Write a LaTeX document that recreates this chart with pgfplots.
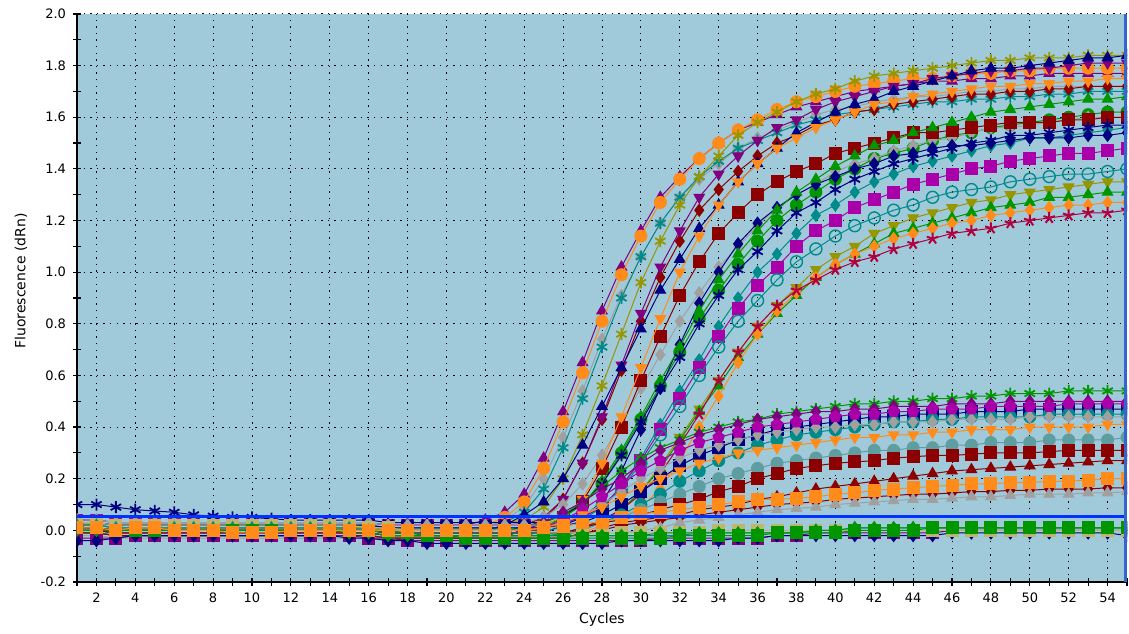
\documentclass[border=0pt]{standalone}
\usepackage{pgfplots}
\pgfplotsset{compat=1.18}
\usepackage{fontspec}
\setmainfont{DejaVu Sans}
\definecolor{pu}{RGB}{128,0,128}
\definecolor{mg}{RGB}{170,0,170}
\definecolor{or}{RGB}{255,140,26}
\definecolor{gr}{RGB}{160,160,160}
\definecolor{tl}{RGB}{0,139,139}
\definecolor{ol}{RGB}{150,150,0}
\definecolor{dr}{RGB}{139,0,0}
\definecolor{nv}{RGB}{0,0,128}
\definecolor{gn}{RGB}{0,150,0}
\definecolor{cr}{RGB}{176,0,64}
\definecolor{sl}{RGB}{95,158,160}
\definecolor{kh}{RGB}{189,183,107}
\definecolor{bgc}{RGB}{160,202,218}
\definecolor{thr}{RGB}{0,51,255}
\definecolor{rl}{RGB}{51,102,204}
\begin{document}
\begin{tikzpicture}
\begin{axis}[
  scale only axis, width=525pt, height=284pt,
  xmin=1, xmax=55, ymin=-0.2, ymax=2.0,
  axis x line*=bottom, axis y line*=left,
  axis line style={-, line width=0.8pt, black},
  axis background/.style={fill=bgc},
  xtick={2,4,...,54}, minor xtick={1,3,...,55},
  ytick={-0.2,0.0,0.2,0.4,0.6,0.8,1.0,1.2,1.4,1.6,1.8,2.0},
  minor ytick={-0.1,0.1,0.3,0.5,0.7,0.9,1.1,1.3,1.5,1.7,1.9},
  grid=major, grid style={black, line width=0.5pt, dash pattern=on 0.7pt off 2.6pt},
  tick align=center, major tick length=4pt, minor tick length=4pt,
  tick style={black, line width=0.6pt},
  tick label style={font=\fontsize{6.5}{7}\selectfont},
  /pgf/number format/assume math mode=true,
  yticklabel style={/pgf/number format/.cd, fixed, fixed zerofill, precision=1},
  every axis x label/.style={at={(axis description cs:0.5,-0.0669)}, anchor=center, font=\fontsize{7}{8}\selectfont},
  every axis y label/.style={at={(axis description cs:-0.0533,0.53)}, rotate=90, anchor=center, font=\fontsize{7}{8}\selectfont},
  xlabel={Cycles}, ylabel={Fluorescence (dRn)},
  clip marker paths=true,
  every axis plot/.append style={line width=0.5pt, mark size=3pt},
]
% ---------- high plateau group ----------
\addplot[pu, mark=triangle*] coordinates {(1,0.04)(2,0.04)(3,0.03)(4,0.03)(5,0.03)(6,0.03)(7,0.03)(8,0.03)(9,0.03)(10,0.03)(11,0.03)(12,0.03)(13,0.03)(14,0.03)(15,0.03)(16,0.03)(17,0.02)(18,0.02)(19,0.02)(20,0.02)(21,0.02)(22,0.04)(23,0.07)(24,0.14)(25,0.28)(26,0.46)(27,0.65)(28,0.85)(29,1.02)(30,1.16)(31,1.29)(32,1.37)(33,1.44)(34,1.50)(35,1.55)(36,1.58)(37,1.61)(38,1.64)(39,1.66)(40,1.68)(41,1.70)(42,1.71)(43,1.72)(44,1.73)(45,1.74)(46,1.74)(47,1.75)(48,1.75)(49,1.76)(50,1.76)(51,1.77)(52,1.77)(53,1.77)(54,1.77)(55,1.77)};
\addplot[gr, mark=diamond*] coordinates {(1,0.02)(2,0.02)(3,0.01)(4,0.01)(5,0.01)(6,0.01)(7,0.01)(8,0.01)(9,0.01)(10,0.01)(11,0.01)(12,0.01)(13,0.01)(14,0.01)(15,0.01)(16,0.01)(17,0.00)(18,0.00)(19,0.00)(20,0.00)(21,0.00)(22,0.01)(23,0.04)(24,0.09)(25,0.20)(26,0.36)(27,0.54)(28,0.74)(29,0.91)(30,1.06)(31,1.19)(32,1.29)(33,1.36)(34,1.42)(35,1.48)(36,1.52)(37,1.55)(38,1.58)(39,1.61)(40,1.63)(41,1.64)(42,1.66)(43,1.67)(44,1.68)(45,1.68)(46,1.69)(47,1.70)(48,1.70)(49,1.71)(50,1.71)(51,1.72)(52,1.72)(53,1.72)(54,1.72)(55,1.72)};
\addplot[or, mark=*] coordinates {(1,0.01)(2,0.01)(3,0.00)(4,0.00)(5,0.00)(6,0.00)(7,0.00)(8,0.00)(9,0.00)(10,0.00)(11,0.00)(12,0.00)(13,0.00)(14,0.00)(15,0.00)(16,0.00)(17,-0.01)(18,-0.01)(19,-0.01)(20,-0.01)(21,-0.01)(22,0.02)(23,0.05)(24,0.11)(25,0.24)(26,0.42)(27,0.61)(28,0.81)(29,0.99)(30,1.14)(31,1.27)(32,1.36)(33,1.44)(34,1.50)(35,1.55)(36,1.59)(37,1.63)(38,1.66)(39,1.68)(40,1.70)(41,1.72)(42,1.73)(43,1.74)(44,1.75)(45,1.75)(46,1.76)(47,1.77)(48,1.77)(49,1.78)(50,1.78)(51,1.79)(52,1.79)(53,1.79)(54,1.79)(55,1.79)};
\addplot[tl, mark=asterisk, mark options={line width=0.9pt}] coordinates {(1,0.00)(2,0.00)(3,-0.01)(4,-0.01)(5,-0.01)(6,-0.01)(7,-0.01)(8,-0.01)(9,-0.01)(10,-0.01)(11,-0.01)(12,-0.01)(13,-0.01)(14,-0.01)(15,-0.01)(16,-0.01)(17,-0.02)(18,-0.02)(19,-0.02)(20,-0.02)(21,-0.02)(22,-0.02)(23,0.03)(24,0.07)(25,0.16)(26,0.32)(27,0.51)(28,0.71)(29,0.90)(30,1.06)(31,1.19)(32,1.29)(33,1.37)(34,1.43)(35,1.48)(36,1.51)(37,1.54)(38,1.57)(39,1.59)(40,1.61)(41,1.62)(42,1.63)(43,1.64)(44,1.65)(45,1.66)(46,1.66)(47,1.67)(48,1.67)(49,1.68)(50,1.68)(51,1.69)(52,1.69)(53,1.70)(54,1.70)(55,1.70)};
\addplot[ol, mark=asterisk, mark options={line width=0.9pt}] coordinates {(1,0.03)(2,0.03)(3,0.02)(4,0.02)(5,0.02)(6,0.02)(7,0.02)(8,0.02)(9,0.02)(10,0.02)(11,0.02)(12,0.02)(13,0.02)(14,0.02)(15,0.02)(16,0.02)(17,0.01)(18,0.01)(19,0.01)(20,0.01)(21,0.01)(22,0.01)(23,0.03)(24,0.04)(25,0.09)(26,0.20)(27,0.37)(28,0.56)(29,0.76)(30,0.96)(31,1.12)(32,1.26)(33,1.37)(34,1.45)(35,1.53)(36,1.58)(37,1.62)(38,1.66)(39,1.69)(40,1.71)(41,1.74)(42,1.76)(43,1.77)(44,1.78)(45,1.79)(46,1.80)(47,1.81)(48,1.82)(49,1.82)(50,1.83)(51,1.83)(52,1.83)(53,1.84)(54,1.84)(55,1.84)};
\addplot[dr, mark=diamond*] coordinates {(1,0.01)(2,0.01)(3,0.00)(4,0.00)(5,0.00)(6,0.00)(7,0.00)(8,0.00)(9,0.00)(10,0.00)(11,0.00)(12,0.00)(13,0.00)(14,0.00)(15,0.00)(16,0.00)(17,-0.01)(18,-0.01)(19,-0.01)(20,-0.01)(21,-0.01)(22,-0.01)(23,-0.01)(24,0.02)(25,0.05)(26,0.12)(27,0.26)(28,0.43)(29,0.62)(30,0.81)(31,0.98)(32,1.12)(33,1.24)(34,1.32)(35,1.39)(36,1.45)(37,1.50)(38,1.53)(39,1.57)(40,1.59)(41,1.62)(42,1.63)(43,1.65)(44,1.66)(45,1.67)(46,1.68)(47,1.69)(48,1.69)(49,1.70)(50,1.70)(51,1.71)(52,1.71)(53,1.72)(54,1.72)(55,1.72)};
\addplot[pu, mark=triangle*, mark options={rotate=180}] coordinates {(1,-0.01)(2,-0.01)(3,-0.02)(4,-0.02)(5,-0.02)(6,-0.02)(7,-0.02)(8,-0.02)(9,-0.02)(10,-0.02)(11,-0.02)(12,-0.02)(13,-0.02)(14,-0.02)(15,-0.02)(16,-0.02)(17,-0.03)(18,-0.03)(19,-0.03)(20,-0.03)(21,-0.03)(22,-0.03)(23,-0.03)(24,0.01)(25,0.04)(26,0.12)(27,0.26)(28,0.44)(29,0.64)(30,0.84)(31,1.02)(32,1.16)(33,1.29)(34,1.38)(35,1.45)(36,1.51)(37,1.56)(38,1.59)(39,1.63)(40,1.66)(41,1.68)(42,1.70)(43,1.72)(44,1.73)(45,1.75)(46,1.76)(47,1.77)(48,1.78)(49,1.78)(50,1.79)(51,1.79)(52,1.80)(53,1.81)(54,1.81)(55,1.81)};
\addplot[nv, mark=triangle*] coordinates {(1,0.02)(2,0.02)(3,0.01)(4,0.01)(5,0.01)(6,0.01)(7,0.01)(8,0.01)(9,0.01)(10,0.01)(11,0.01)(12,0.01)(13,0.01)(14,0.01)(15,0.01)(16,0.01)(17,0.00)(18,0.00)(19,0.00)(20,0.00)(21,0.00)(22,0.00)(23,0.02)(24,0.06)(25,0.11)(26,0.20)(27,0.33)(28,0.48)(29,0.63)(30,0.78)(31,0.93)(32,1.05)(33,1.17)(34,1.26)(35,1.35)(36,1.42)(37,1.48)(38,1.54)(39,1.58)(40,1.62)(41,1.65)(42,1.67)(43,1.70)(44,1.72)(45,1.74)(46,1.76)(47,1.78)(48,1.79)(49,1.79)(50,1.80)(51,1.81)(52,1.82)(53,1.83)(54,1.83)(55,1.84)};
\addplot[gn, mark=*] coordinates {(1,0.01)(2,0.01)(3,0.00)(4,0.00)(5,0.00)(6,0.00)(7,0.00)(8,0.00)(9,0.00)(10,0.00)(11,0.00)(12,0.00)(13,0.00)(14,0.00)(15,0.00)(16,0.00)(17,-0.01)(18,-0.01)(19,-0.01)(20,-0.01)(21,-0.01)(22,-0.01)(23,-0.01)(24,-0.01)(25,0.02)(26,0.05)(27,0.10)(28,0.18)(29,0.30)(30,0.43)(31,0.56)(32,0.69)(33,0.82)(34,0.93)(35,1.03)(36,1.12)(37,1.20)(38,1.26)(39,1.31)(40,1.36)(41,1.40)(42,1.44)(43,1.46)(44,1.48)(45,1.51)(46,1.53)(47,1.54)(48,1.56)(49,1.57)(50,1.58)(51,1.59)(52,1.60)(53,1.61)(54,1.62)(55,1.62)};
\addplot[gr, mark=diamond*] coordinates {(1,0.04)(2,0.04)(3,0.03)(4,0.03)(5,0.03)(6,0.03)(7,0.03)(8,0.03)(9,0.03)(10,0.03)(11,0.03)(12,0.03)(13,0.03)(14,0.03)(15,0.03)(16,0.03)(17,0.02)(18,0.02)(19,0.02)(20,0.02)(21,0.02)(22,0.02)(23,0.02)(24,0.03)(25,0.05)(26,0.10)(27,0.18)(28,0.29)(29,0.42)(30,0.55)(31,0.68)(32,0.81)(33,0.92)(34,1.02)(35,1.10)(36,1.18)(37,1.25)(38,1.30)(39,1.34)(40,1.39)(41,1.42)(42,1.44)(43,1.47)(44,1.49)(45,1.51)(46,1.52)(47,1.54)(48,1.56)(49,1.56)(50,1.57)(51,1.58)(52,1.59)(53,1.60)(54,1.60)(55,1.60)};
\addplot[dr, mark=square*] coordinates {(1,0.00)(2,0.00)(3,-0.01)(4,-0.01)(5,-0.01)(6,-0.01)(7,-0.01)(8,-0.01)(9,-0.01)(10,-0.01)(11,-0.01)(12,-0.01)(13,-0.01)(14,-0.01)(15,-0.01)(16,-0.01)(17,-0.02)(18,-0.02)(19,-0.02)(20,-0.02)(21,-0.02)(22,-0.02)(23,-0.02)(24,-0.02)(25,0.01)(26,0.05)(27,0.11)(28,0.24)(29,0.40)(30,0.58)(31,0.75)(32,0.91)(33,1.04)(34,1.15)(35,1.23)(36,1.30)(37,1.35)(38,1.39)(39,1.42)(40,1.46)(41,1.48)(42,1.50)(43,1.52)(44,1.54)(45,1.54)(46,1.55)(47,1.56)(48,1.57)(49,1.58)(50,1.58)(51,1.58)(52,1.59)(53,1.59)(54,1.60)(55,1.60)};
\addplot[tl, mark=diamond*] coordinates {(1,0.03)(2,0.03)(3,0.02)(4,0.02)(5,0.02)(6,0.02)(7,0.02)(8,0.02)(9,0.02)(10,0.02)(11,0.02)(12,0.02)(13,0.02)(14,0.02)(15,0.02)(16,0.02)(17,0.01)(18,0.01)(19,0.01)(20,0.01)(21,0.01)(22,0.01)(23,0.01)(24,0.01)(25,0.01)(26,0.03)(27,0.05)(28,0.09)(29,0.17)(30,0.28)(31,0.41)(32,0.54)(33,0.66)(34,0.79)(35,0.90)(36,1.00)(37,1.07)(38,1.15)(39,1.22)(40,1.26)(41,1.31)(42,1.35)(43,1.38)(44,1.41)(45,1.43)(46,1.45)(47,1.47)(48,1.49)(49,1.50)(50,1.52)(51,1.52)(52,1.53)(53,1.54)(54,1.55)(55,1.56)};
\addplot[nv, mark=diamond*] coordinates {(1,0.01)(2,0.01)(3,0.00)(4,0.00)(5,0.00)(6,0.00)(7,0.00)(8,0.00)(9,0.00)(10,0.00)(11,0.00)(12,0.00)(13,0.00)(14,0.00)(15,0.00)(16,0.00)(17,-0.01)(18,-0.01)(19,-0.01)(20,-0.01)(21,-0.01)(22,-0.01)(23,-0.01)(24,-0.01)(25,-0.01)(26,0.02)(27,0.05)(28,0.11)(29,0.23)(30,0.39)(31,0.55)(32,0.72)(33,0.88)(34,1.00)(35,1.11)(36,1.19)(37,1.25)(38,1.30)(39,1.34)(40,1.37)(41,1.40)(42,1.42)(43,1.45)(44,1.46)(45,1.48)(46,1.49)(47,1.49)(48,1.50)(49,1.51)(50,1.52)(51,1.52)(52,1.52)(53,1.53)(54,1.53)(55,1.54)};
\addplot[mg, mark=square*] coordinates {(1,0.04)(2,0.04)(3,0.03)(4,0.03)(5,0.03)(6,0.03)(7,0.03)(8,0.03)(9,0.03)(10,0.03)(11,0.03)(12,0.03)(13,0.03)(14,0.03)(15,0.03)(16,0.03)(17,0.02)(18,0.02)(19,0.02)(20,0.02)(21,0.02)(22,0.02)(23,0.02)(24,0.02)(25,0.02)(26,0.03)(27,0.05)(28,0.09)(29,0.17)(30,0.27)(31,0.39)(32,0.51)(33,0.63)(34,0.75)(35,0.86)(36,0.95)(37,1.02)(38,1.10)(39,1.16)(40,1.20)(41,1.25)(42,1.28)(43,1.31)(44,1.34)(45,1.36)(46,1.38)(47,1.40)(48,1.41)(49,1.43)(50,1.44)(51,1.45)(52,1.46)(53,1.46)(54,1.47)(55,1.48)};
\addplot[or, mark=triangle*, mark options={rotate=180}] coordinates {(1,0.02)(2,0.02)(3,0.01)(4,0.01)(5,0.01)(6,0.01)(7,0.01)(8,0.01)(9,0.01)(10,0.01)(11,0.01)(12,0.01)(13,0.01)(14,0.01)(15,0.01)(16,0.01)(17,0.00)(18,0.00)(19,0.00)(20,0.00)(21,0.00)(22,0.00)(23,0.00)(24,0.00)(25,0.02)(26,0.05)(27,0.12)(28,0.26)(29,0.44)(30,0.63)(31,0.82)(32,1.00)(33,1.14)(34,1.26)(35,1.35)(36,1.42)(37,1.48)(38,1.52)(39,1.56)(40,1.59)(41,1.62)(42,1.65)(43,1.66)(44,1.68)(45,1.69)(46,1.70)(47,1.71)(48,1.72)(49,1.72)(50,1.73)(51,1.73)(52,1.74)(53,1.74)(54,1.75)(55,1.75)};
\addplot[gn, mark=triangle*] coordinates {(1,-0.01)(2,-0.01)(3,-0.02)(4,-0.02)(5,-0.02)(6,-0.02)(7,-0.02)(8,-0.02)(9,-0.02)(10,-0.02)(11,-0.02)(12,-0.02)(13,-0.02)(14,-0.02)(15,-0.02)(16,-0.02)(17,-0.03)(18,-0.03)(19,-0.03)(20,-0.03)(21,-0.03)(22,-0.03)(23,-0.03)(24,-0.03)(25,0.01)(26,0.05)(27,0.10)(28,0.19)(29,0.31)(30,0.44)(31,0.58)(32,0.71)(33,0.85)(34,0.97)(35,1.07)(36,1.16)(37,1.24)(38,1.31)(39,1.36)(40,1.41)(41,1.45)(42,1.49)(43,1.51)(44,1.54)(45,1.56)(46,1.58)(47,1.60)(48,1.62)(49,1.63)(50,1.64)(51,1.65)(52,1.66)(53,1.67)(54,1.67)(55,1.68)};
\addplot[ol, mark=triangle*, mark options={rotate=180}] coordinates {(1,0.01)(2,0.01)(3,0.00)(4,0.00)(5,0.00)(6,0.00)(7,0.00)(8,0.00)(9,0.00)(10,0.00)(11,0.00)(12,0.00)(13,0.00)(14,0.00)(15,0.00)(16,0.00)(17,-0.01)(18,-0.01)(19,-0.01)(20,-0.01)(21,-0.01)(22,-0.01)(23,-0.01)(24,-0.01)(25,-0.01)(26,-0.01)(27,0.01)(28,0.04)(29,0.08)(30,0.15)(31,0.25)(32,0.36)(33,0.47)(34,0.58)(35,0.69)(36,0.79)(37,0.87)(38,0.94)(39,1.01)(40,1.06)(41,1.10)(42,1.15)(43,1.18)(44,1.21)(45,1.23)(46,1.25)(47,1.27)(48,1.28)(49,1.30)(50,1.31)(51,1.32)(52,1.33)(53,1.34)(54,1.35)(55,1.35)};
\addplot[gn, mark=triangle*] coordinates {(1,-0.01)(2,-0.01)(3,-0.02)(4,-0.02)(5,-0.02)(6,-0.02)(7,-0.02)(8,-0.02)(9,-0.02)(10,-0.02)(11,-0.02)(12,-0.02)(13,-0.02)(14,-0.02)(15,-0.02)(16,-0.02)(17,-0.03)(18,-0.03)(19,-0.03)(20,-0.03)(21,-0.03)(22,-0.03)(23,-0.03)(24,-0.03)(25,-0.03)(26,-0.03)(27,0.01)(28,0.04)(29,0.08)(30,0.15)(31,0.24)(32,0.35)(33,0.46)(34,0.56)(35,0.67)(36,0.76)(37,0.84)(38,0.91)(39,0.98)(40,1.03)(41,1.07)(42,1.11)(43,1.15)(44,1.17)(45,1.19)(46,1.21)(47,1.23)(48,1.25)(49,1.26)(50,1.27)(51,1.29)(52,1.29)(53,1.30)(54,1.31)(55,1.31)};
\addplot[tl, mark=o, mark options={line width=0.7pt}] coordinates {(1,0.02)(2,0.02)(3,0.01)(4,0.01)(5,0.01)(6,0.01)(7,0.01)(8,0.01)(9,0.01)(10,0.01)(11,0.01)(12,0.01)(13,0.01)(14,0.01)(15,0.01)(16,0.01)(17,0.00)(18,0.00)(19,0.00)(20,0.00)(21,0.00)(22,0.00)(23,0.00)(24,0.00)(25,0.00)(26,0.01)(27,0.04)(28,0.09)(29,0.16)(30,0.26)(31,0.37)(32,0.48)(33,0.60)(34,0.71)(35,0.81)(36,0.89)(37,0.97)(38,1.04)(39,1.09)(40,1.14)(41,1.18)(42,1.21)(43,1.24)(44,1.26)(45,1.29)(46,1.31)(47,1.32)(48,1.33)(49,1.35)(50,1.36)(51,1.37)(52,1.38)(53,1.38)(54,1.39)(55,1.40)};
\addplot[or, mark=diamond*] coordinates {(1,0.01)(2,0.01)(3,0.00)(4,0.00)(5,0.00)(6,0.00)(7,0.00)(8,0.00)(9,0.00)(10,0.00)(11,0.00)(12,0.00)(13,0.00)(14,0.00)(15,0.00)(16,0.00)(17,-0.01)(18,-0.01)(19,-0.01)(20,-0.01)(21,-0.01)(22,-0.01)(23,-0.01)(24,-0.01)(25,-0.01)(26,-0.01)(27,-0.01)(28,0.02)(29,0.05)(30,0.09)(31,0.16)(32,0.27)(33,0.40)(34,0.52)(35,0.65)(36,0.76)(37,0.85)(38,0.92)(39,0.98)(40,1.03)(41,1.07)(42,1.10)(43,1.13)(44,1.15)(45,1.17)(46,1.19)(47,1.20)(48,1.22)(49,1.23)(50,1.24)(51,1.25)(52,1.26)(53,1.26)(54,1.27)(55,1.27)};
\addplot[cr, mark=star, mark options={line width=1pt}] coordinates {(1,0.00)(2,0.00)(3,-0.01)(4,-0.01)(5,-0.01)(6,-0.01)(7,-0.01)(8,-0.01)(9,-0.01)(10,-0.01)(11,-0.01)(12,-0.01)(13,-0.01)(14,-0.01)(15,-0.01)(16,-0.01)(17,-0.02)(18,-0.02)(19,-0.02)(20,-0.02)(21,-0.02)(22,-0.02)(23,-0.02)(24,-0.02)(25,-0.02)(26,-0.02)(27,0.01)(28,0.04)(29,0.08)(30,0.14)(31,0.22)(32,0.33)(33,0.45)(34,0.58)(35,0.69)(36,0.79)(37,0.87)(38,0.93)(39,0.97)(40,1.01)(41,1.04)(42,1.06)(43,1.09)(44,1.11)(45,1.13)(46,1.15)(47,1.16)(48,1.17)(49,1.19)(50,1.20)(51,1.21)(52,1.22)(53,1.23)(54,1.23)(55,1.24)};
\addplot[nv, mark=asterisk, mark options={line width=0.9pt}] coordinates {(1,0.10)(2,0.10)(3,0.09)(4,0.08)(5,0.075)(6,0.07)(7,0.06)(8,0.055)(9,0.05)(10,0.05)(11,0.045)(12,0.04)(13,0.04)(14,0.04)(15,0.04)(16,0.04)(17,0.03)(18,0.03)(19,0.03)(20,0.03)(21,0.03)(22,0.03)(23,0.03)(24,0.03)(25,0.03)(26,0.06)(27,0.10)(28,0.18)(29,0.29)(30,0.42)(31,0.55)(32,0.67)(33,0.80)(34,0.91)(35,1.01)(36,1.08)(37,1.16)(38,1.23)(39,1.27)(40,1.32)(41,1.36)(42,1.39)(43,1.42)(44,1.44)(45,1.46)(46,1.48)(47,1.50)(48,1.51)(49,1.53)(50,1.53)(51,1.54)(52,1.55)(53,1.56)(54,1.57)(55,1.57)};
% ---------- low plateau group ----------
\addplot[gn, mark=asterisk, mark options={line width=0.9pt}] coordinates {(1,0.02)(2,0.02)(3,0.01)(4,0.01)(5,0.01)(6,0.01)(7,0.01)(8,0.01)(9,0.01)(10,0.01)(11,0.01)(12,0.01)(13,0.01)(14,0.01)(15,0.01)(16,0.01)(17,0.00)(18,0.00)(19,0.00)(20,0.00)(21,0.00)(22,0.00)(23,0.00)(24,0.01)(25,0.03)(26,0.06)(27,0.11)(28,0.17)(29,0.23)(30,0.28)(31,0.32)(32,0.35)(33,0.38)(34,0.40)(35,0.42)(36,0.43)(37,0.45)(38,0.46)(39,0.47)(40,0.48)(41,0.49)(42,0.49)(43,0.50)(44,0.50)(45,0.51)(46,0.51)(47,0.52)(48,0.52)(49,0.53)(50,0.53)(51,0.53)(52,0.54)(53,0.54)(54,0.54)(55,0.54)};
\addplot[pu, mark=diamond*] coordinates {(1,0.00)(2,0.00)(3,-0.01)(4,-0.01)(5,-0.01)(6,-0.01)(7,-0.01)(8,-0.01)(9,-0.01)(10,-0.01)(11,-0.01)(12,-0.01)(13,-0.01)(14,-0.01)(15,-0.01)(16,-0.01)(17,-0.02)(18,-0.02)(19,-0.02)(20,-0.02)(21,-0.02)(22,-0.02)(23,-0.02)(24,0.00)(25,0.03)(26,0.07)(27,0.11)(28,0.16)(29,0.20)(30,0.26)(31,0.31)(32,0.34)(33,0.37)(34,0.39)(35,0.41)(36,0.43)(37,0.44)(38,0.45)(39,0.46)(40,0.46)(41,0.47)(42,0.47)(43,0.48)(44,0.48)(45,0.48)(46,0.49)(47,0.49)(48,0.49)(49,0.50)(50,0.50)(51,0.50)(52,0.50)(53,0.50)(54,0.50)(55,0.50)};
\addplot[nv, mark=square*] coordinates {(1,0.03)(2,0.03)(3,0.02)(4,0.02)(5,0.02)(6,0.02)(7,0.02)(8,0.02)(9,0.02)(10,0.02)(11,0.02)(12,0.02)(13,0.02)(14,0.02)(15,0.02)(16,0.02)(17,0.01)(18,0.01)(19,0.01)(20,0.01)(21,0.01)(22,0.01)(23,0.01)(24,0.01)(25,0.01)(26,0.02)(27,0.03)(28,0.06)(29,0.10)(30,0.15)(31,0.20)(32,0.25)(33,0.29)(34,0.32)(35,0.35)(36,0.37)(37,0.39)(38,0.40)(39,0.41)(40,0.42)(41,0.43)(42,0.44)(43,0.44)(44,0.45)(45,0.45)(46,0.45)(47,0.46)(48,0.46)(49,0.46)(50,0.47)(51,0.47)(52,0.47)(53,0.47)(54,0.47)(55,0.47)};
\addplot[tl, mark=*] coordinates {(1,0.01)(2,0.01)(3,0.00)(4,0.00)(5,0.00)(6,0.00)(7,0.00)(8,0.00)(9,0.00)(10,0.00)(11,0.00)(12,0.00)(13,0.00)(14,0.00)(15,0.00)(16,0.00)(17,-0.01)(18,-0.01)(19,-0.01)(20,-0.01)(21,-0.01)(22,-0.01)(23,-0.01)(24,-0.01)(25,-0.01)(26,-0.01)(27,0.01)(28,0.03)(29,0.06)(30,0.10)(31,0.14)(32,0.19)(33,0.23)(34,0.27)(35,0.30)(36,0.33)(37,0.35)(38,0.37)(39,0.38)(40,0.39)(41,0.40)(42,0.41)(43,0.42)(44,0.42)(45,0.43)(46,0.43)(47,0.44)(48,0.44)(49,0.44)(50,0.44)(51,0.45)(52,0.45)(53,0.45)(54,0.45)(55,0.45)};
\addplot[gr, mark=diamond*] coordinates {(1,0.04)(2,0.04)(3,0.03)(4,0.03)(5,0.03)(6,0.03)(7,0.03)(8,0.03)(9,0.03)(10,0.03)(11,0.03)(12,0.03)(13,0.03)(14,0.03)(15,0.03)(16,0.03)(17,0.02)(18,0.02)(19,0.02)(20,0.02)(21,0.02)(22,0.02)(23,0.02)(24,0.02)(25,0.02)(26,0.03)(27,0.06)(28,0.10)(29,0.15)(30,0.20)(31,0.24)(32,0.28)(33,0.31)(34,0.33)(35,0.35)(36,0.37)(37,0.38)(38,0.39)(39,0.40)(40,0.40)(41,0.41)(42,0.41)(43,0.42)(44,0.42)(45,0.42)(46,0.43)(47,0.43)(48,0.43)(49,0.43)(50,0.44)(51,0.44)(52,0.44)(53,0.44)(54,0.44)(55,0.44)};
\addplot[mg, mark=pentagon*] coordinates {(1,0.01)(2,0.01)(3,0.00)(4,0.00)(5,0.00)(6,0.00)(7,0.00)(8,0.00)(9,0.00)(10,0.00)(11,0.00)(12,0.00)(13,0.00)(14,0.00)(15,0.00)(16,0.00)(17,-0.01)(18,-0.01)(19,-0.01)(20,-0.01)(21,-0.01)(22,-0.01)(23,-0.01)(24,-0.01)(25,0.01)(26,0.04)(27,0.08)(28,0.13)(29,0.18)(30,0.23)(31,0.27)(32,0.31)(33,0.34)(34,0.36)(35,0.38)(36,0.40)(37,0.41)(38,0.42)(39,0.43)(40,0.44)(41,0.45)(42,0.45)(43,0.46)(44,0.46)(45,0.47)(46,0.47)(47,0.47)(48,0.48)(49,0.48)(50,0.48)(51,0.48)(52,0.49)(53,0.49)(54,0.49)(55,0.49)};
\addplot[or, mark=triangle*, mark options={rotate=180}] coordinates {(1,0.02)(2,0.02)(3,0.01)(4,0.01)(5,0.01)(6,0.01)(7,0.01)(8,0.01)(9,0.01)(10,0.01)(11,0.01)(12,0.01)(13,0.01)(14,0.01)(15,0.01)(16,0.01)(17,0.00)(18,0.00)(19,0.00)(20,0.00)(21,0.00)(22,0.00)(23,0.00)(24,0.00)(25,0.01)(26,0.03)(27,0.06)(28,0.09)(29,0.13)(30,0.17)(31,0.20)(32,0.23)(33,0.26)(34,0.28)(35,0.30)(36,0.31)(37,0.32)(38,0.33)(39,0.34)(40,0.35)(41,0.36)(42,0.36)(43,0.37)(44,0.37)(45,0.38)(46,0.38)(47,0.39)(48,0.39)(49,0.39)(50,0.40)(51,0.40)(52,0.40)(53,0.40)(54,0.41)(55,0.41)};
\addplot[sl, mark=*] coordinates {(1,0.00)(2,0.00)(3,-0.01)(4,-0.01)(5,-0.01)(6,-0.01)(7,-0.01)(8,-0.01)(9,-0.01)(10,-0.01)(11,-0.01)(12,-0.01)(13,-0.01)(14,-0.01)(15,-0.01)(16,-0.01)(17,-0.02)(18,-0.02)(19,-0.02)(20,-0.02)(21,-0.02)(22,-0.02)(23,-0.02)(24,-0.02)(25,-0.02)(26,-0.02)(27,0.00)(28,0.03)(29,0.05)(30,0.08)(31,0.11)(32,0.14)(33,0.17)(34,0.20)(35,0.22)(36,0.24)(37,0.26)(38,0.27)(39,0.28)(40,0.29)(41,0.30)(42,0.31)(43,0.31)(44,0.32)(45,0.32)(46,0.33)(47,0.33)(48,0.34)(49,0.34)(50,0.34)(51,0.35)(52,0.35)(53,0.35)(54,0.35)(55,0.36)};
\addplot[dr, mark=square*] coordinates {(1,0.01)(2,0.01)(3,0.00)(4,0.00)(5,0.00)(6,0.00)(7,0.00)(8,0.00)(9,0.00)(10,0.00)(11,0.00)(12,0.00)(13,0.00)(14,0.00)(15,0.00)(16,0.00)(17,-0.01)(18,-0.01)(19,-0.01)(20,-0.01)(21,-0.01)(22,-0.01)(23,-0.01)(24,-0.01)(25,-0.01)(26,-0.01)(27,0.01)(28,0.03)(29,0.04)(30,0.06)(31,0.08)(32,0.10)(33,0.12)(34,0.15)(35,0.17)(36,0.20)(37,0.22)(38,0.24)(39,0.25)(40,0.26)(41,0.265)(42,0.27)(43,0.28)(44,0.285)(45,0.29)(46,0.29)(47,0.295)(48,0.30)(49,0.30)(50,0.30)(51,0.305)(52,0.31)(53,0.31)(54,0.31)(55,0.31)};
\addplot[dr, mark=triangle*] coordinates {(1,0.00)(2,0.00)(3,-0.01)(4,-0.01)(5,-0.01)(6,-0.01)(7,-0.01)(8,-0.01)(9,-0.01)(10,-0.01)(11,-0.01)(12,-0.01)(13,-0.01)(14,-0.01)(15,-0.01)(16,-0.01)(17,-0.02)(18,-0.02)(19,-0.02)(20,-0.02)(21,-0.02)(22,-0.02)(23,-0.02)(24,-0.02)(25,-0.02)(26,-0.02)(27,-0.02)(28,0.01)(29,0.03)(30,0.04)(31,0.05)(32,0.06)(33,0.08)(34,0.09)(35,0.10)(36,0.12)(37,0.13)(38,0.145)(39,0.16)(40,0.17)(41,0.18)(42,0.19)(43,0.20)(44,0.21)(45,0.22)(46,0.23)(47,0.235)(48,0.24)(49,0.245)(50,0.25)(51,0.255)(52,0.26)(53,0.265)(54,0.27)(55,0.27)};
\addplot[dr, mark=diamond*] coordinates {(1,-0.01)(2,-0.01)(3,-0.02)(4,-0.02)(5,-0.02)(6,-0.02)(7,-0.02)(8,-0.02)(9,-0.02)(10,-0.02)(11,-0.02)(12,-0.02)(13,-0.02)(14,-0.02)(15,-0.02)(16,-0.02)(17,-0.03)(18,-0.03)(19,-0.03)(20,-0.03)(21,-0.03)(22,-0.03)(23,-0.03)(24,-0.03)(25,-0.03)(26,-0.03)(27,-0.01)(28,0.00)(29,0.02)(30,0.03)(31,0.04)(32,0.05)(33,0.06)(34,0.07)(35,0.08)(36,0.09)(37,0.10)(38,0.105)(39,0.11)(40,0.12)(41,0.125)(42,0.13)(43,0.135)(44,0.14)(45,0.14)(46,0.145)(47,0.15)(48,0.15)(49,0.155)(50,0.155)(51,0.16)(52,0.16)(53,0.16)(54,0.165)(55,0.165)};
\addplot[gr, mark=triangle*] coordinates {(1,-0.02)(2,-0.02)(3,-0.03)(4,-0.03)(5,-0.03)(6,-0.03)(7,-0.03)(8,-0.03)(9,-0.03)(10,-0.03)(11,-0.03)(12,-0.03)(13,-0.03)(14,-0.03)(15,-0.03)(16,-0.03)(17,-0.04)(18,-0.04)(19,-0.04)(20,-0.04)(21,-0.04)(22,-0.04)(23,-0.04)(24,-0.04)(25,-0.04)(26,-0.04)(27,-0.04)(28,-0.04)(29,-0.01)(30,0.00)(31,0.01)(32,0.03)(33,0.04)(34,0.05)(35,0.06)(36,0.07)(37,0.08)(38,0.085)(39,0.09)(40,0.10)(41,0.105)(42,0.11)(43,0.115)(44,0.12)(45,0.12)(46,0.125)(47,0.13)(48,0.13)(49,0.135)(50,0.14)(51,0.14)(52,0.14)(53,0.145)(54,0.145)(55,0.15)};
% ---------- negatives ----------
\addplot[pu, mark=square*] coordinates {(1,-0.03)(2,-0.03)(3,-0.03)(4,-0.02)(5,-0.02)(6,-0.02)(7,-0.02)(8,-0.02)(9,-0.02)(10,-0.02)(11,-0.02)(12,-0.02)(13,-0.02)(14,-0.02)(15,-0.02)(16,-0.03)(17,-0.03)(18,-0.04)(19,-0.04)(20,-0.04)(21,-0.04)(22,-0.04)(23,-0.04)(24,-0.04)(25,-0.04)(26,-0.04)(27,-0.04)(28,-0.04)(29,-0.04)(30,-0.04)(31,-0.03)(32,-0.03)(33,-0.03)(34,-0.03)(35,-0.03)(36,-0.03)(37,-0.02)(38,-0.02)(39,-0.01)(40,-0.01)(41,-0.01)(42,-0.01)(43,-0.01)(44,-0.01)(45,-0.01)(46,0.00)(47,0.00)(48,0.00)(49,0.00)(50,0.00)(51,0.00)(52,0.00)(53,0.00)(54,0.00)(55,0.00)};
\addplot[nv, mark=diamond*] coordinates {(1,-0.04)(2,-0.04)(3,-0.03)(4,-0.02)(5,-0.02)(6,-0.02)(7,-0.02)(8,-0.02)(9,-0.02)(10,-0.02)(11,-0.02)(12,-0.02)(13,-0.02)(14,-0.02)(15,-0.03)(16,-0.03)(17,-0.04)(18,-0.04)(19,-0.05)(20,-0.05)(21,-0.05)(22,-0.05)(23,-0.05)(24,-0.05)(25,-0.05)(26,-0.05)(27,-0.05)(28,-0.05)(29,-0.04)(30,-0.04)(31,-0.04)(32,-0.04)(33,-0.04)(34,-0.04)(35,-0.03)(36,-0.03)(37,-0.02)(38,-0.02)(39,-0.02)(40,-0.02)(41,-0.02)(42,-0.02)(43,-0.02)(44,-0.02)(45,-0.02)(46,-0.01)(47,-0.01)(48,-0.01)(49,-0.01)(50,-0.01)(51,-0.01)(52,-0.01)(53,-0.01)(54,-0.01)(55,-0.02)};
\addplot[kh, mark=square*] coordinates {(1,0.03)(2,0.03)(3,0.02)(4,0.02)(5,0.02)(6,0.02)(7,0.02)(8,0.02)(9,0.02)(10,0.02)(11,0.02)(12,0.02)(13,0.02)(14,0.02)(15,0.02)(16,0.01)(17,0.01)(18,0.00)(19,0.00)(20,0.00)(21,0.00)(22,0.00)(23,0.00)(24,0.00)(25,-0.01)(26,-0.01)(27,-0.01)(28,-0.01)(29,-0.01)(30,-0.01)(31,-0.01)(32,-0.01)(33,-0.01)(34,0.00)(35,0.00)(36,0.00)(37,0.00)(38,0.00)(39,0.00)(40,0.00)(41,0.00)(42,0.00)(43,0.00)(44,0.00)(45,0.00)(46,0.00)(47,0.00)(48,0.00)(49,0.00)(50,0.00)(51,0.00)(52,0.00)(53,0.00)(54,0.00)(55,0.00)};
\addplot[tl, mark=triangle*] coordinates {(1,0.02)(2,0.02)(3,0.01)(4,0.01)(5,0.01)(6,0.01)(7,0.01)(8,0.01)(9,0.01)(10,0.01)(11,0.01)(12,0.01)(13,0.01)(14,0.01)(15,0.01)(16,0.00)(17,0.00)(18,-0.01)(19,-0.01)(20,-0.01)(21,-0.01)(22,-0.01)(23,-0.01)(24,-0.01)(25,-0.01)(26,-0.02)(27,-0.02)(28,-0.02)(29,-0.02)(30,-0.02)(31,-0.02)(32,-0.02)(33,-0.01)(34,-0.01)(35,-0.01)(36,-0.01)(37,-0.01)(38,-0.01)(39,0.00)(40,0.00)(41,0.01)(42,0.01)(43,0.01)(44,0.01)(45,0.01)(46,0.01)(47,0.01)(48,0.01)(49,0.01)(50,0.01)(51,0.01)(52,0.01)(53,0.01)(54,0.01)(55,0.01)};
\addplot[gn, mark=diamond*] coordinates {(1,0.00)(2,0.00)(3,0.00)(4,0.00)(5,0.00)(6,0.00)(7,0.00)(8,0.00)(9,0.00)(10,0.00)(11,0.00)(12,0.00)(13,0.00)(14,0.00)(15,-0.01)(16,-0.01)(17,-0.02)(18,-0.02)(19,-0.02)(20,-0.02)(21,-0.02)(22,-0.02)(23,-0.02)(24,-0.02)(25,-0.02)(26,-0.02)(27,-0.02)(28,-0.02)(29,-0.02)(30,-0.02)(31,-0.01)(32,-0.01)(33,-0.01)(34,-0.01)(35,-0.01)(36,-0.01)(37,-0.01)(38,-0.01)(39,0.00)(40,0.00)(41,0.01)(42,0.01)(43,0.01)(44,0.01)(45,0.01)(46,0.01)(47,0.01)(48,0.01)(49,0.01)(50,0.01)(51,0.01)(52,0.01)(53,0.01)(54,0.01)(55,0.01)};
\addplot[gn, mark=square*] coordinates {(1,0.01)(2,0.01)(3,0.00)(4,0.00)(5,0.00)(6,0.00)(7,0.00)(8,0.00)(9,0.00)(10,0.00)(11,0.00)(12,0.00)(13,0.00)(14,0.00)(15,0.00)(16,0.00)(17,-0.01)(18,-0.01)(19,-0.02)(20,-0.02)(21,-0.03)(22,-0.03)(23,-0.03)(24,-0.03)(25,-0.03)(26,-0.03)(27,-0.03)(28,-0.03)(29,-0.03)(30,-0.03)(31,-0.03)(32,-0.02)(33,-0.02)(34,-0.02)(35,-0.02)(36,-0.02)(37,-0.01)(38,-0.01)(39,-0.01)(40,-0.01)(41,0.00)(42,0.00)(43,0.00)(44,0.00)(45,0.01)(46,0.01)(47,0.01)(48,0.01)(49,0.01)(50,0.01)(51,0.01)(52,0.01)(53,0.01)(54,0.01)(55,0.01)};
% orange squares on top
\addplot[or, mark=square*] coordinates {(1,0.01)(2,0.01)(3,0.00)(4,0.01)(5,0.01)(6,0.00)(7,0.00)(8,0.00)(9,-0.01)(10,-0.01)(11,-0.01)(12,0.00)(13,0.00)(14,0.00)(15,0.00)(16,0.00)(17,0.00)(18,0.00)(19,0.00)(20,0.00)(21,0.00)(22,0.00)(23,0.00)(24,0.00)(25,0.01)(26,0.015)(27,0.03)(28,0.03)(29,0.05)(30,0.065)(31,0.07)(32,0.08)(33,0.09)(34,0.10)(35,0.11)(36,0.12)(37,0.12)(38,0.125)(39,0.13)(40,0.14)(41,0.145)(42,0.155)(43,0.16)(44,0.165)(45,0.17)(46,0.175)(47,0.18)(48,0.18)(49,0.185)(50,0.185)(51,0.19)(52,0.19)(53,0.195)(54,0.20)(55,0.20)};
% threshold
\addplot[thr, line width=1.4pt, mark=none] coordinates {(1,0.055)(55,0.055)};
\end{axis}
\draw[rl, line width=1.3pt] ([xshift=-0.65pt]current axis.south east) -- ([xshift=-0.65pt]current axis.north east);
\path ([shift={(-38.5pt,-23pt)}]current axis.south west) rectangle ([shift={(1pt,7pt)}]current axis.north east);
\end{tikzpicture}
\end{document}
